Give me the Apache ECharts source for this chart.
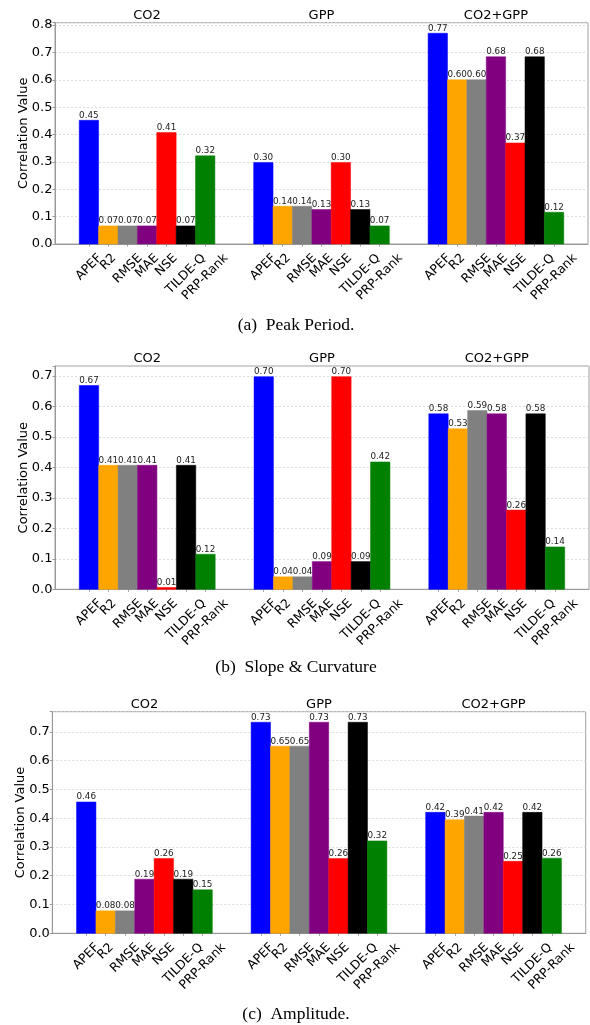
<!DOCTYPE html>
<html><head><meta charset="utf-8">
<script src="https://cdn.jsdelivr.net/npm/echarts@6/dist/echarts.min.js"></script>
<style>html,body{margin:0;padding:0;background:#fff}#c{width:590px;height:1025px}</style>
</head><body><div id="c"></div><script>
// ---- data ----
const metrics = ['APEF','R2','RMSE','MAE','NSE','TILDE-Q','PRP-Rank'];
const groups = ['CO2','GPP','CO2+GPP'];
const captions = ['(a)  Peak Period.','(b)  Slope & Curvature','(c)  Amplitude.'];
const peakCO2  = [0.452,0.066,0.066,0.066,0.407,0.066,0.322];
const peakGPP  = [0.298,0.138,0.138,0.126,0.298,0.126,0.066];
const peakBoth = [0.770,0.600,0.600,0.684,0.369,0.684,0.116];
const slopeCO2  = [0.669,0.407,0.407,0.407,0.006,0.407,0.115];
const slopeGPP  = [0.698,0.041,0.041,0.091,0.698,0.091,0.418];
const slopeBoth = [0.576,0.527,0.587,0.576,0.260,0.576,0.139];
const ampCO2  = [0.456,0.078,0.078,0.188,0.260,0.188,0.151];
const ampGPP  = [0.733,0.650,0.650,0.733,0.260,0.733,0.321];
const ampBoth = [0.420,0.394,0.407,0.420,0.250,0.420,0.261];

// ---- style ----
const colors = ['#0000ff','#ffa500','#808080','#800080','#ff0000','#000000','#008000'];
const FONT = '"DejaVu Sans", sans-serif';
const XFS = 12.5;
const panels = [
  {data:[peakCO2,peakGPP,peakBoth],   left:55,   right:588,   top:22.7,  bottom:244,   cap:325},
  {data:[slopeCO2,slopeGPP,slopeBoth],left:55,   right:589,   top:366,   bottom:589.3, cap:667},
  {data:[ampCO2,ampGPP,ampBoth],      left:52.3, right:585.7, top:711.7, bottom:933.3, cap:1014}
];
const GSTEP = 9, XMIN = -1.75, XMAX = 25.75;

// label offsets for matplotlib-like centred rotated tick labels
const cv = document.createElement('canvas').getContext('2d');
cv.font = XFS + 'px "DejaVu Sans"';
const labOff = metrics.map(m => 7 + (cv.measureText(m).width + XFS*1.17)*0.3536);

function renderItem(params, api){
  const x = api.value(0), v = api.value(1), k = api.value(2);
  const p0 = api.coord([x-0.5, 0]);
  const p1 = api.coord([x+0.5, v]);
  const cx = (p0[0]+p1[0])/2;
  return {type:'group', children:[
    {type:'rect', shape:{x:p0[0], y:p1[1], width:p1[0]-p0[0], height:p0[1]-p1[1]},
     style:{fill:colors[k], stroke:colors[k], lineWidth:0.5}},
    {type:'text', x:cx, y:p1[1]-0.3,
     style:{text:v.toFixed(2), font:'8.8px "DejaVu Sans"', fill:'#222', align:'center', verticalAlign:'bottom'}},
    {type:'text', x:cx, y:p0[1]+labOff[k], rotation:Math.PI/4,
     style:{text:metrics[k], font:XFS+'px "DejaVu Sans"', fill:'#000', align:'center', verticalAlign:'middle'}}
  ]};
}

const tickVals = [];
groups.forEach((g,gi)=>metrics.forEach((m,i)=>tickVals.push(gi*GSTEP+i)));

const grid=[], xAxis=[], yAxis=[], series=[];
panels.forEach((P,pi)=>{
  let mx = 0; P.data.forEach(a=>a.forEach(v=>{if(v>mx)mx=v;}));
  grid.push({left:P.left, top:P.top, width:P.right-P.left, height:P.bottom-P.top, show:true, borderColor:'#a0a0a0', borderWidth:1, backgroundColor:'transparent'});
  xAxis.push({type:'value', gridIndex:pi, min:XMIN, max:XMAX,
    splitLine:{show:false},
    axisLine:{show:true, onZero:false, lineStyle:{color:'#999'}},
    axisTick:{show:true, customValues:tickVals, length:2.5, lineStyle:{color:'#999'}},
    axisLabel:{show:false}
  });
  yAxis.push({type:'value', gridIndex:pi, min:0, max:mx*1.05, interval:0.1,
    name:'Correlation Value', nameLocation:'middle', nameGap:25, nameMoveOverlap:false,
    nameTextStyle:{fontSize:13, fontFamily:FONT, color:'#000'},
    axisLine:{show:true, onZero:false, lineStyle:{color:'#999'}},
    axisTick:{show:true, length:2.5, lineStyle:{color:'#999'}},
    axisLabel:{fontSize:13, fontFamily:FONT, color:'#000', margin:2.5,
      formatter:(v)=>{const r=Math.round(v*10); return Math.abs(v*10-r)<1e-6? (r/10).toFixed(1):'';}},
    splitLine:{show:true, lineStyle:{color:'#d4d4d4', type:[2,2], width:0.8}}
  });
  const d=[];
  P.data.forEach((arr,gi)=>arr.forEach((v,i)=>d.push([gi*GSTEP+i, v, i])));
  series.push({type:'custom', xAxisIndex:pi, yAxisIndex:pi, data:d, renderItem:renderItem, clip:false, animation:false,
    encode:{x:0, y:1}});
});

const chart = echarts.init(document.getElementById('c'), null, {renderer:'canvas'});
chart.setOption({animation:false, backgroundColor:'#fff', grid, xAxis, yAxis, series});

const graphic=[];
panels.forEach((P,pi)=>{
  groups.forEach((g,gi)=>{
    const px = chart.convertToPixel({xAxisIndex:pi}, gi*GSTEP+3);
    graphic.push({type:'text', x:px, y:P.top-7.5, style:{text:g, font:'13px "DejaVu Sans"', fill:'#000', align:'center', verticalAlign:'middle'}});
  });
  graphic.push({type:'text', x:296, y:P.cap, style:{text:captions[pi], font:'17.5px "Liberation Serif"', fill:'#000', align:'center', verticalAlign:'middle'}});
});
chart.setOption({graphic});
</script></body></html>
